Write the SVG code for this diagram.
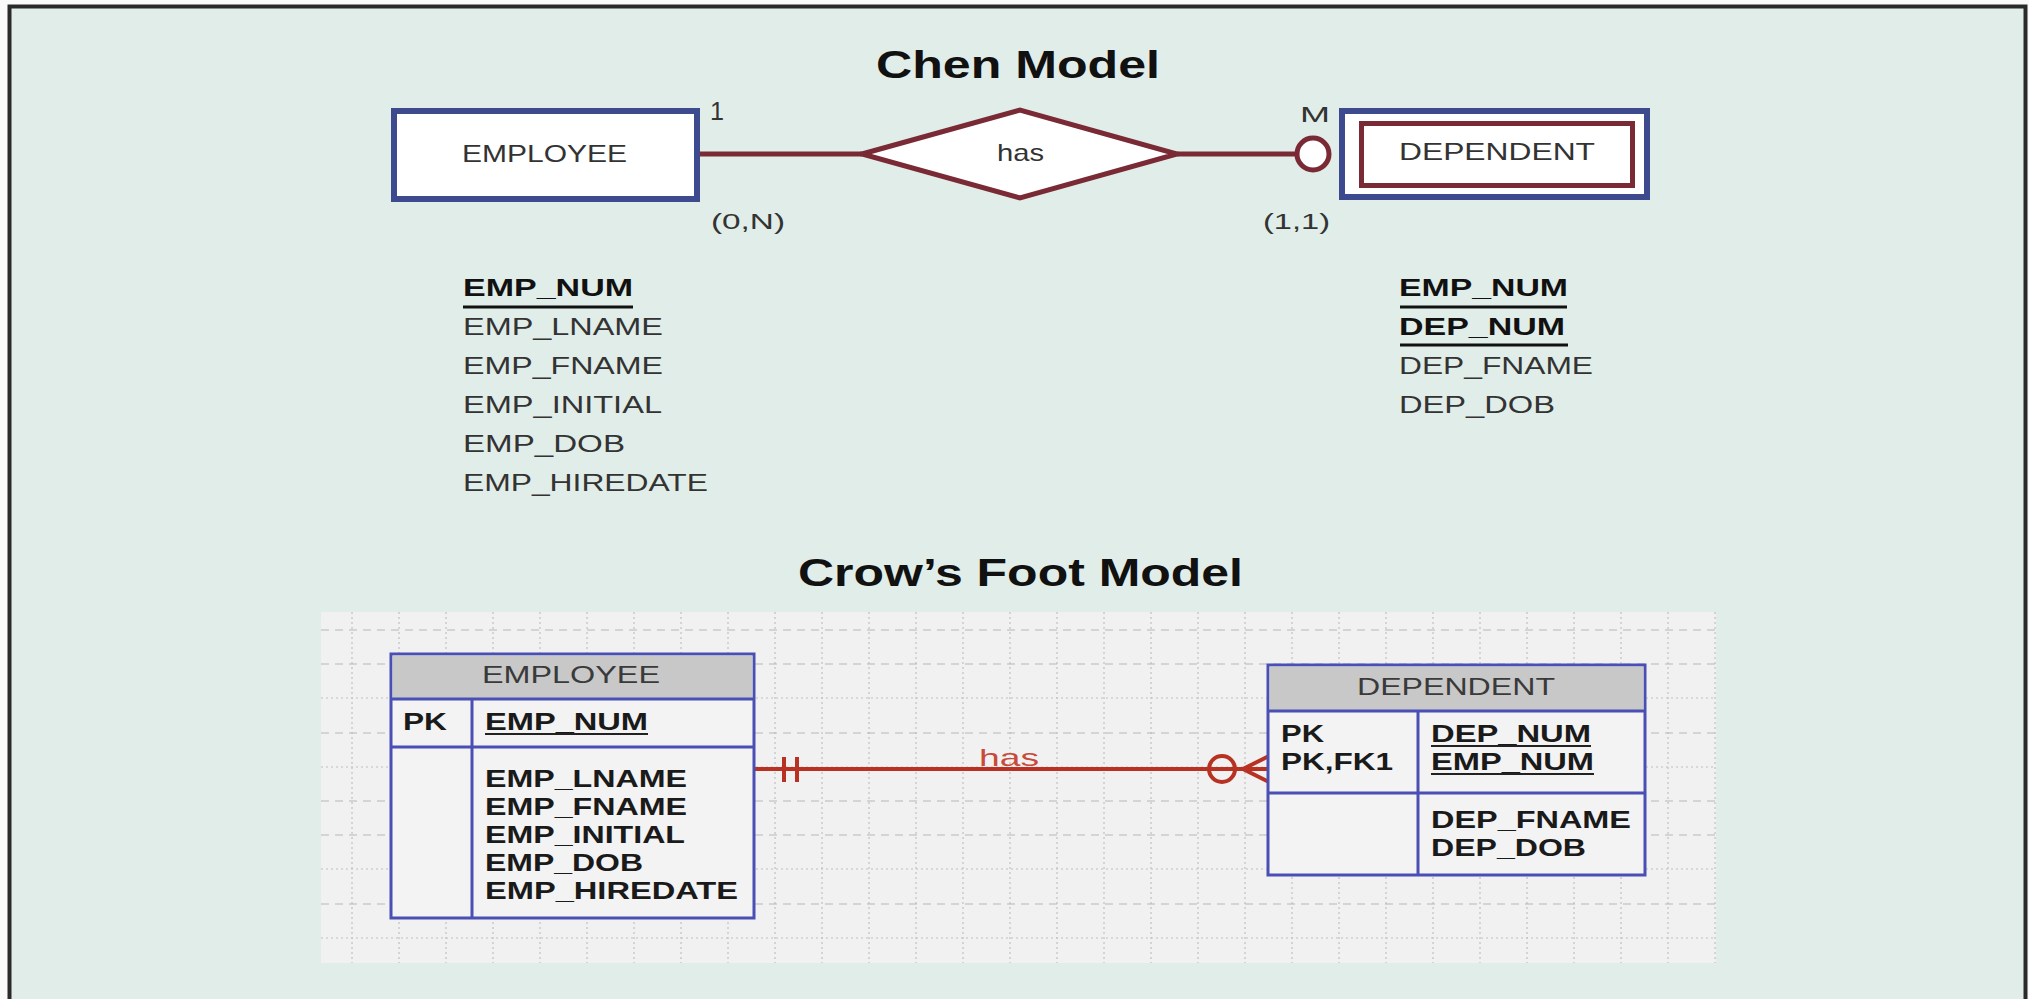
<svg xmlns="http://www.w3.org/2000/svg" width="2029" height="999" viewBox="0 0 2029 999">
<style>
.t{font-family:"Liberation Sans",Arial,sans-serif;font-size:24px;fill:#333}
.b{font-family:"Liberation Sans",Arial,sans-serif;font-size:24px;font-weight:bold;fill:#111}
.title{font-family:"Liberation Sans",Arial,sans-serif;font-size:38px;font-weight:bold;fill:#111}
.sm{font-family:"Liberation Sans",Arial,sans-serif;font-size:22px;fill:#333}
.cb{font-family:"Liberation Sans",Arial,sans-serif;font-size:24px;font-weight:bold;fill:#1a1a1a}
.ch{font-family:"Liberation Sans",Arial,sans-serif;font-size:24px;fill:#3a3a3a}
.blue{fill:#fff;stroke:#3D4A8E;stroke-width:6}
.maroon{stroke:#7A2A35;stroke-width:5}
.tbl{stroke:#4A4FB5;stroke-width:3}
.rel{stroke:#B83224;stroke-width:4;fill:none}
.gd{stroke:#B8B8B8;stroke-width:1.2;stroke-dasharray:8 6}
.gt{stroke:#C0C0C0;stroke-width:1.2;stroke-dasharray:2 3}
.ul{stroke:#111;stroke-width:3}
.ul2{stroke:#222;stroke-width:2}
</style>
<rect x="0" y="0" width="2029" height="999" fill="#fafafa"/>
<rect x="9.5" y="6.5" width="2016" height="1100" fill="#E1EDE9" stroke="#2a2a2a" stroke-width="4"/>

<text class="title" x="876" y="78" textLength="284" lengthAdjust="spacingAndGlyphs">Chen Model</text>
<text class="title" x="798" y="586" textLength="445" lengthAdjust="spacingAndGlyphs">Crow’s Foot Model</text>

<!-- Chen connectors -->
<g id="chen-connectors" fill="none">
<line class="maroon" x1="700" y1="154" x2="862" y2="154"/>
<line class="maroon" x1="1177" y1="154" x2="1297" y2="154"/>
<circle class="maroon" cx="1313" cy="154" r="16" fill="#fff"/>
</g>

<g id="chen-employee">
<rect class="blue" x="394" y="111" width="303" height="88"/>
<text class="t" x="462" y="162" textLength="165" lengthAdjust="spacingAndGlyphs">EMPLOYEE</text>
</g>

<g id="chen-has">
<polygon class="maroon" points="862,154 1020,110 1177,154 1020,198" fill="#fff"/>
<text class="t" x="997" y="161" textLength="47" lengthAdjust="spacingAndGlyphs">has</text>
</g>

<g id="chen-dependent">
<rect class="blue" x="1342" y="111" width="305" height="86"/>
<rect class="maroon" x="1361.5" y="123.5" width="271" height="62" fill="#fff"/>
<text class="t" x="1399" y="160" textLength="196" lengthAdjust="spacingAndGlyphs">DEPENDENT</text>
</g>

<g id="chen-labels">
<text class="sm" x="710" y="120" style="font-size:26px" textLength="14" lengthAdjust="spacingAndGlyphs">1</text>
<text class="sm" x="1300" y="122" textLength="30" lengthAdjust="spacingAndGlyphs">M</text>
<text class="sm" x="711" y="229" textLength="74" lengthAdjust="spacingAndGlyphs">(0,N)</text>
<text class="sm" x="1263" y="229" textLength="67" lengthAdjust="spacingAndGlyphs">(1,1)</text>
</g>

<g id="chen-employee-attrs">
<text class="b" x="463" y="296" textLength="170" lengthAdjust="spacingAndGlyphs">EMP_NUM</text>
<line class="ul" x1="463" y1="307" x2="633" y2="307"/>
<text class="t" x="463" y="335" textLength="200" lengthAdjust="spacingAndGlyphs">EMP_LNAME</text>
<text class="t" x="463" y="374" textLength="200" lengthAdjust="spacingAndGlyphs">EMP_FNAME</text>
<text class="t" x="463" y="413" textLength="199" lengthAdjust="spacingAndGlyphs">EMP_INITIAL</text>
<text class="t" x="463" y="452" textLength="162" lengthAdjust="spacingAndGlyphs">EMP_DOB</text>
<text class="t" x="463" y="491" textLength="245" lengthAdjust="spacingAndGlyphs">EMP_HIREDATE</text>
</g>

<g id="chen-dependent-attrs">
<text class="b" x="1399" y="296" textLength="169" lengthAdjust="spacingAndGlyphs">EMP_NUM</text>
<line class="ul" x1="1400" y1="307" x2="1567" y2="307"/>
<text class="b" x="1399" y="335" textLength="166" lengthAdjust="spacingAndGlyphs">DEP_NUM</text>
<line class="ul" x1="1400" y1="345" x2="1568" y2="345"/>
<text class="t" x="1399" y="374" textLength="194" lengthAdjust="spacingAndGlyphs">DEP_FNAME</text>
<text class="t" x="1399" y="413" textLength="156" lengthAdjust="spacingAndGlyphs">DEP_DOB</text>
</g>

<!-- Crow's foot grid -->
<g id="grid">
<rect x="321" y="612" width="1395" height="351" fill="#F1F1F1"/>
<g class="gt">
<line x1="352" y1="612" x2="352" y2="963"/><line x1="399" y1="612" x2="399" y2="963"/><line x1="446" y1="612" x2="446" y2="963"/><line x1="493" y1="612" x2="493" y2="963"/><line x1="540" y1="612" x2="540" y2="963"/><line x1="587" y1="612" x2="587" y2="963"/><line x1="634" y1="612" x2="634" y2="963"/><line x1="681" y1="612" x2="681" y2="963"/><line x1="728" y1="612" x2="728" y2="963"/><line x1="775" y1="612" x2="775" y2="963"/><line x1="822" y1="612" x2="822" y2="963"/><line x1="869" y1="612" x2="869" y2="963"/><line x1="916" y1="612" x2="916" y2="963"/><line x1="963" y1="612" x2="963" y2="963"/><line x1="1010" y1="612" x2="1010" y2="963"/><line x1="1057" y1="612" x2="1057" y2="963"/><line x1="1104" y1="612" x2="1104" y2="963"/><line x1="1151" y1="612" x2="1151" y2="963"/><line x1="1198" y1="612" x2="1198" y2="963"/><line x1="1245" y1="612" x2="1245" y2="963"/><line x1="1292" y1="612" x2="1292" y2="963"/><line x1="1339" y1="612" x2="1339" y2="963"/><line x1="1386" y1="612" x2="1386" y2="963"/><line x1="1433" y1="612" x2="1433" y2="963"/><line x1="1480" y1="612" x2="1480" y2="963"/><line x1="1527" y1="612" x2="1527" y2="963"/><line x1="1574" y1="612" x2="1574" y2="963"/><line x1="1621" y1="612" x2="1621" y2="963"/><line x1="1668" y1="612" x2="1668" y2="963"/><line x1="1715" y1="612" x2="1715" y2="963"/>
<line x1="321" y1="698" x2="1716" y2="698"/><line x1="321" y1="767" x2="1716" y2="767"/><line x1="321" y1="869" x2="1716" y2="869"/><line x1="321" y1="938" x2="1716" y2="938"/>
</g>
<g class="gd">
<line x1="321" y1="630" x2="1716" y2="630"/><line x1="321" y1="664" x2="1716" y2="664"/><line x1="321" y1="733" x2="1716" y2="733"/><line x1="321" y1="801" x2="1716" y2="801"/><line x1="321" y1="835" x2="1716" y2="835"/><line x1="321" y1="904" x2="1716" y2="904"/>
</g>
</g>

<!-- Crow's foot connector -->
<g id="cf-connectors">
<line class="rel" x1="754" y1="769" x2="1269" y2="769"/>
<line class="rel" x1="784" y1="757" x2="784" y2="782" stroke-width="6"/>
<line class="rel" x1="797" y1="757" x2="797" y2="782" stroke-width="6"/>
<circle class="rel" cx="1222" cy="769" r="13" fill="#F1F1F1"/>
<polyline class="rel" points="1269,756 1243,769 1269,782"/>
<text x="979" y="766" textLength="60" lengthAdjust="spacingAndGlyphs" style="font-family:'Liberation Sans',Arial,sans-serif;font-size:24px;fill:#C84A3A">has</text>
</g>

<g id="cf-employee">
<rect class="tbl" x="391" y="654" width="363" height="264" fill="#F3F3F3"/>
<rect x="392.5" y="655.5" width="360" height="43.5" fill="#C8C8C8"/>
<line class="tbl" x1="391" y1="699" x2="754" y2="699"/>
<line class="tbl" x1="391" y1="747" x2="754" y2="747"/>
<line class="tbl" x1="472" y1="699" x2="472" y2="918"/>
<text class="ch" x="482" y="683" textLength="178" lengthAdjust="spacingAndGlyphs">EMPLOYEE</text>
<text class="cb" x="403" y="730" textLength="44" lengthAdjust="spacingAndGlyphs">PK</text>
<text class="cb" x="485" y="730" textLength="163" lengthAdjust="spacingAndGlyphs">EMP_NUM</text>
<line class="ul2" x1="485" y1="734" x2="648" y2="734"/>
<text class="cb" x="485" y="787" textLength="202" lengthAdjust="spacingAndGlyphs">EMP_LNAME</text>
<text class="cb" x="485" y="815" textLength="202" lengthAdjust="spacingAndGlyphs">EMP_FNAME</text>
<text class="cb" x="485" y="843" textLength="200" lengthAdjust="spacingAndGlyphs">EMP_INITIAL</text>
<text class="cb" x="485" y="871" textLength="158" lengthAdjust="spacingAndGlyphs">EMP_DOB</text>
<text class="cb" x="485" y="899" textLength="253" lengthAdjust="spacingAndGlyphs">EMP_HIREDATE</text>
</g>

<g id="cf-dependent">
<rect class="tbl" x="1268" y="665" width="377" height="210" fill="#F3F3F3"/>
<rect x="1269.5" y="666.5" width="374" height="44.5" fill="#C8C8C8"/>
<line class="tbl" x1="1268" y1="711" x2="1645" y2="711"/>
<line class="tbl" x1="1268" y1="793" x2="1645" y2="793"/>
<line class="tbl" x1="1418" y1="711" x2="1418" y2="875"/>
<text class="ch" x="1357" y="695" textLength="198" lengthAdjust="spacingAndGlyphs">DEPENDENT</text>
<text class="cb" x="1281" y="742" textLength="43" lengthAdjust="spacingAndGlyphs">PK</text>
<text class="cb" x="1281" y="770" textLength="112" lengthAdjust="spacingAndGlyphs">PK,FK1</text>
<text class="cb" x="1431" y="742" textLength="160" lengthAdjust="spacingAndGlyphs">DEP_NUM</text>
<line class="ul2" x1="1431" y1="746" x2="1591" y2="746"/>
<text class="cb" x="1431" y="770" textLength="163" lengthAdjust="spacingAndGlyphs">EMP_NUM</text>
<line class="ul2" x1="1431" y1="774" x2="1594" y2="774"/>
<text class="cb" x="1431" y="828" textLength="200" lengthAdjust="spacingAndGlyphs">DEP_FNAME</text>
<text class="cb" x="1431" y="856" textLength="155" lengthAdjust="spacingAndGlyphs">DEP_DOB</text>
</g>
</svg>
